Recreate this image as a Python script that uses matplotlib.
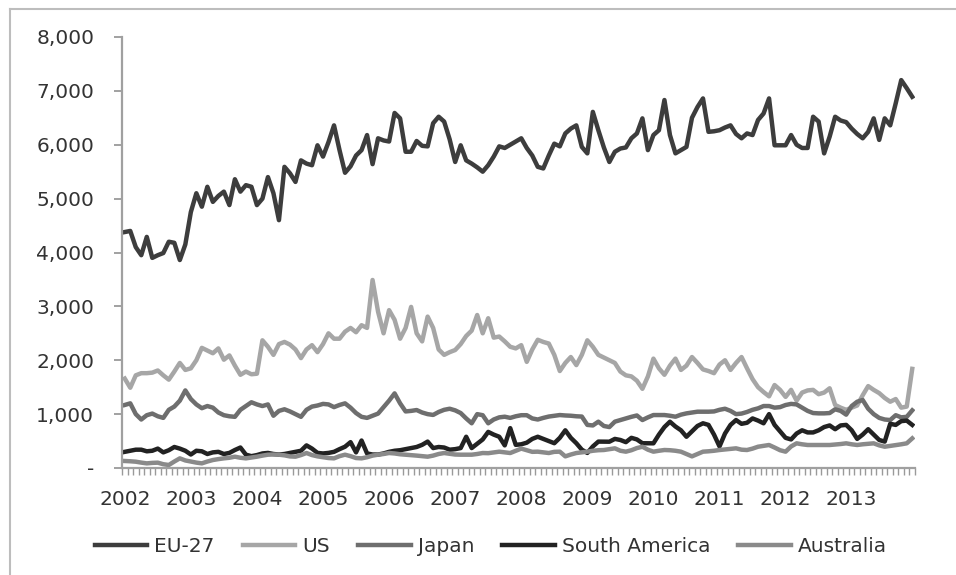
import matplotlib.pyplot as plt
import numpy as np
from matplotlib.lines import Line2D

# monthly values, Jan 2002 - Dec 2013
eu27 = [4380, 4400, 4100, 3950, 4290, 3900, 3950, 3990, 4200, 4180, 3860, 4150,
        4750, 5100, 4850, 5220, 4940, 5050, 5130, 4880, 5360, 5130, 5250, 5220,
        4880, 5000, 5400, 5100, 4600, 5590, 5470, 5310, 5710, 5650, 5620, 5990,
        5780, 6050, 6360, 5900, 5480, 5600, 5800, 5900, 6180, 5640, 6120, 6080,
        6060, 6590, 6490, 5870, 5870, 6070, 5980, 5970, 6400, 6520, 6430, 6100,
        5680, 5990, 5710, 5650, 5580, 5500, 5620, 5780, 5970, 5940, 6000, 6060,
        6120, 5940, 5800, 5590, 5560, 5800, 6020, 5970, 6210, 6300, 6360, 5960,
        5840, 6610, 6270, 5950, 5680, 5870, 5930, 5950, 6120, 6210, 6490, 5900,
        6180, 6270, 6830, 6180, 5840, 5900, 5960, 6500, 6700, 6860, 6240, 6250,
        6270, 6320, 6360, 6200, 6120, 6210, 6180, 6460, 6580, 6860, 5990, 5990,
        5990, 6180, 6000, 5940, 5940, 6520, 6430, 5840, 6150, 6520, 6450, 6420,
        6300, 6200, 6120, 6240, 6490, 6090, 6490, 6360, 6770, 7200, 7050, 6890]

us = [1660, 1490, 1720, 1760, 1760, 1770, 1810, 1720, 1640, 1790, 1950, 1820,
      1850, 2000, 2230, 2180, 2130, 2220, 2010, 2090, 1900, 1730, 1790, 1740,
      1750, 2370, 2250, 2100, 2300, 2340, 2290, 2200, 2040, 2200, 2280, 2150,
      2300, 2500, 2400, 2400, 2530, 2600, 2520, 2650, 2600, 3490, 2900, 2500,
      2930, 2750, 2400, 2600, 2990, 2500, 2350, 2810, 2600, 2200, 2100, 2150,
      2190, 2300, 2450, 2550, 2840, 2500, 2780, 2420, 2440, 2350, 2250, 2220,
      2280, 1970, 2200, 2380, 2340, 2310, 2100, 1800, 1950, 2060, 1910, 2100,
      2370, 2250, 2100, 2050, 2000, 1950, 1790, 1720, 1700, 1620, 1470, 1700,
      2030, 1850, 1730, 1900, 2030, 1820, 1900, 2060, 1950, 1830, 1800, 1760,
      1920, 2000, 1820, 1950, 2060, 1850, 1650, 1500, 1410, 1330, 1540, 1450,
      1320, 1450, 1250, 1400, 1440, 1450, 1370, 1400, 1480, 1170, 1120, 1080,
      1120, 1160, 1350, 1520, 1450, 1390, 1300, 1230, 1280, 1120, 1140, 1840]

japan = [1170, 1200, 1000, 900, 980, 1010, 960, 930, 1080, 1140, 1250, 1440,
         1280, 1180, 1110, 1150, 1120, 1030, 980, 960, 950, 1080, 1150, 1220,
         1180, 1150, 1180, 970, 1060, 1090, 1050, 1000, 950, 1080, 1140, 1160,
         1190, 1180, 1130, 1170, 1200, 1120, 1020, 950, 930, 970, 1010, 1130,
         1250, 1385, 1200, 1050, 1060, 1076, 1030, 1000, 985, 1040, 1080, 1100,
         1070, 1020, 920, 830, 1000, 980, 830, 900, 940, 952, 930, 960,
         980, 980, 920, 900, 930, 955, 970, 983, 975, 970, 960, 955,
         800, 790, 860, 780, 760, 860, 890, 920, 950, 975, 890, 940,
         983, 983, 983, 970, 952, 990, 1014, 1030, 1045, 1045, 1045, 1050,
         1080, 1100, 1060, 1000, 1010, 1040, 1080, 1107, 1150, 1150, 1120, 1130,
         1169, 1190, 1180, 1120, 1060, 1020, 1014, 1014, 1020, 1090, 1060, 990,
         1150, 1230, 1262, 1100, 1000, 930, 900, 890, 980, 940, 950, 1070]

south_america = [300, 320, 340, 340, 310, 320, 360, 290, 330, 390, 360, 320,
                 250, 320, 310, 260, 290, 300, 260, 280, 334, 380, 247, 220,
                 240, 270, 280, 260, 250, 260, 280, 300, 320, 420, 360, 280,
                 270, 280, 300, 350, 395, 480, 290, 510, 270, 250, 250, 270,
                 300, 320, 330, 350, 370, 390, 430, 490, 370, 390, 380, 340,
                 350, 370, 580, 370, 450, 530, 670, 620, 580, 420, 740, 430,
                 440, 470, 540, 580, 540, 500, 460, 560, 700, 560, 460, 340,
                 280, 400, 490, 490, 488, 540, 520, 480, 560, 530, 460, 458,
                 458, 620, 760, 859, 770, 700, 580, 680, 780, 830, 800, 620,
                 400, 640, 800, 890, 820, 840, 920, 880, 830, 1000, 800, 680,
                 560, 530, 640, 700, 660, 660, 700, 760, 790, 720, 790, 800,
                 700, 540, 620, 720, 620, 520, 490, 820, 800, 870, 880, 800]

australia = [130, 125, 117, 100, 86, 95, 99, 70, 56, 120, 179, 140,
             120, 100, 86, 120, 148, 165, 179, 190, 210, 190, 179, 195,
             210, 230, 247, 250, 247, 235, 215, 210, 240, 278, 240, 216,
             200, 185, 179, 220, 247, 220, 185, 179, 200, 230, 247, 260,
             278, 270, 255, 247, 240, 230, 220, 210, 230, 260, 278, 265,
             250, 247, 247, 247, 260, 278, 275, 290, 303, 290, 278, 320,
             360, 330, 300, 303, 290, 278, 300, 303, 216, 250, 278, 290,
             303, 320, 330, 334, 350, 365, 320, 303, 330, 370, 395, 340,
             303, 320, 334, 330, 320, 303, 260, 216, 260, 303, 310, 320,
             334, 345, 355, 365, 340, 334, 360, 395, 410, 427, 380, 330,
             303, 400, 458, 440, 427, 427, 427, 427, 427, 435, 445, 458,
             440, 427, 440, 450, 458, 420, 395, 410, 427, 440, 458, 550]

series_names = ['EU-27', 'US', 'Japan', 'South America', 'Australia']
series_colors = ['#3d3d3d', '#a6a6a6', '#6e6e6e', '#222222', '#8a8a8a']
years = ['2002', '2003', '2004', '2005', '2006', '2007',
         '2008', '2009', '2010', '2011', '2012', '2013']
y_ticks = [0, 1000, 2000, 3000, 4000, 5000, 6000, 7000, 8000]
y_tick_labels = ['-', '1,000', '2,000', '3,000', '4,000', '5,000', '6,000', '7,000', '8,000']

all_series = [eu27, us, japan, south_america, australia]
x = np.arange(len(eu27))

fig = plt.figure(figsize=(9.56, 5.75), dpi=100)
ax = fig.add_axes([122 / 956, 1 - 468 / 575, (915 - 122) / 956, (468 - 37) / 575])

for values, name, col in zip(all_series, series_names, series_colors):
    ax.plot(x, values, color=col, linewidth=3.2, label=name, solid_joinstyle='round')

ax.set_xlim(-0.5, len(eu27) - 0.5)
ax.set_ylim(0, 8000)

ax.set_yticks(y_ticks)
ax.set_yticklabels(y_tick_labels)
ax.set_xticks(np.arange(0, len(eu27), 12))
ax.set_xticklabels(years)
ax.set_xticks(np.arange(-0.5, len(eu27), 1), minor=True)

ax.tick_params(axis='y', length=6, width=1.3, color='#9a9a9a', pad=14,
               labelsize=14.5, labelcolor='#333333')
ax.tick_params(axis='x', which='major', length=0, pad=16,
               labelsize=14.5, labelcolor='#333333')
ax.tick_params(axis='x', which='minor', length=5, width=1, color='#9a9a9a')

for side in ['top', 'right']:
    ax.spines[side].set_visible(False)
for side in ['left', 'bottom']:
    ax.spines[side].set_color('#a0a0a0')
    ax.spines[side].set_linewidth(1.6)

fig.legend(loc='center', bbox_to_anchor=(491 / 956, 1 - 547 / 575), ncol=5,
           frameon=False, fontsize=14.5, handlelength=2.6, handletextpad=0.35,
           columnspacing=1.4, labelcolor='#333333')

# outer frame of the screenshot
fig.add_artist(Line2D([10 / 956, 1], [1 - 9 / 575, 1 - 9 / 575], color='#bdbdbd', linewidth=1.5))
fig.add_artist(Line2D([10 / 956, 10 / 956], [0, 1 - 9 / 575], color='#bdbdbd', linewidth=1.5))

fig.savefig('out.png', dpi=100)
